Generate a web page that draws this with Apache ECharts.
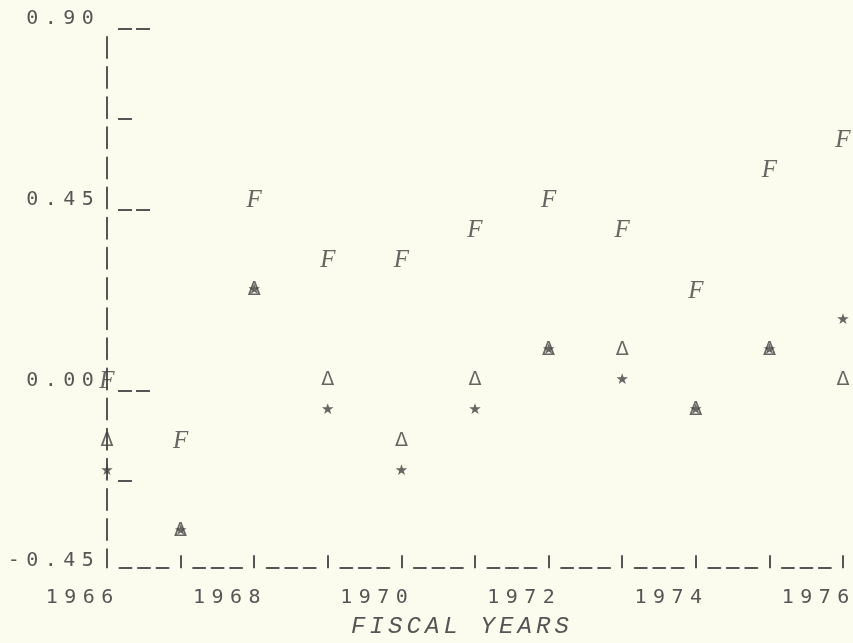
<!DOCTYPE html>
<html>
<head>
<meta charset="utf-8">
<script src="https://cdn.jsdelivr.net/npm/echarts@6/dist/echarts.min.js"></script>
<style>
html,body{margin:0;padding:0;background:#fcfcee;}
#chart{width:853px;height:643px;}
</style>
</head>
<body>
<div id="chart"></div>
<script>
// ---- data ----
const years = [1966, 1967, 1968, 1969, 1970, 1971, 1972, 1973, 1974, 1975, 1976];
const fValues     = [0.00, -0.15, 0.45, 0.30, 0.30, 0.375, 0.45, 0.375, 0.225, 0.525, 0.60];
const deltaValues = [-0.15, -0.375, 0.225, 0.00, -0.15, 0.00, 0.075, 0.075, -0.075, 0.075, 0.00];
const starValues  = [-0.225, -0.375, 0.225, -0.075, -0.225, -0.075, 0.075, 0.00, -0.075, 0.075, 0.15];
const xTickLabels = ['1966', '1968', '1970', '1972', '1974', '1976'];
const yTickLabels = ['-0.45', '0.00', '0.45', '0.90'];
const yMajorTickValues = [0.90, 0.45, 0.00];
const yMinorTickValues = [0.675, -0.225];
const xAxisTitle = 'FISCAL YEARS';

// ---- styling ----
const INK = '#555555';
const MARK = '#404040';
const PITCH = 18.5;
const GRID = {left: 107, right: 10, top: 18.8, bottom: 81.8};
const plotH = 643 - GRID.top - GRID.bottom;
const pxPerUnit = plotH / (0.90 + 0.45);
const SHIFT = 10 / pxPerUnit; // underscores sit ~10px below the row centre
const ROW = plotH / 18;        // typewriter line pitch

// dashed "|" column: one bar per printed line, none on the top (0.90) line
const yDash = [12];
for (let i = 1; i < 18; i++) { yDash.push(ROW - 21, 21); }
yDash.push(200);

function spaced(str, style) {
  return str.split('').map(ch => '{' + style + '|' + ch + '}').join('');
}
function pairs(vals) { return years.map((y, i) => [y, vals[i]]); }

const digitStyle = {width: PITCH, align: 'center', fontFamily: 'DejaVu Sans Mono', fontSize: 20, lineHeight: 22, color: INK};

function markerSeries(name, vals, ch, font, z) {
  return {
    name: name, type: 'scatter', data: pairs(vals), symbol: 'circle', symbolSize: 1,
    itemStyle: {color: 'rgba(0,0,0,0)'}, z: z, silent: true,
    label: {show: true, position: 'inside', formatter: ch, color: MARK,
            fontFamily: font.family, fontSize: font.size, fontStyle: font.style || 'normal',
            fontWeight: font.weight || 'normal', offset: font.offset || [0, 0]},
    emphasis: {disabled: true}
  };
}

const chart = echarts.init(document.getElementById('chart'), null, {renderer: 'canvas'});
chart.setOption({
  backgroundColor: '#fcfcee',
  animation: false,
  grid: Object.assign({containLabel: false, outerBoundsMode: 'none'}, GRID),
  xAxis: {
    type: 'value', min: 1966, max: 1976, interval: 1, offset: 7,
    axisLine: {show: true, onZero: false,
      lineStyle: {color: INK, width: 2, type: [12, 6.5, 12, 6.5, 12, 24.6], dashOffset: 61.1}},
    axisTick: {show: true, inside: true, length: 13, lineStyle: {color: INK, width: 2}},
    splitLine: {show: false},
    axisLabel: {
      margin: 19, align: 'center', padding: [0, 55, 0, 0],
      formatter: v => { const s = String(Math.round(v)); return xTickLabels.includes(s) ? spaced(s, 'd') : ''; },
      rich: {d: digitStyle}
    },
    name: spaced(xAxisTitle, 'n'), nameLocation: 'middle', nameGap: 46,
    nameTextStyle: {padding: [0, 30, 0, 0],
      rich: {n: {width: PITCH, align: 'center', fontFamily: 'Liberation Mono', fontStyle: 'italic', fontSize: 24, lineHeight: 24, color: INK}}}
  },
  yAxis: [
    {
      type: 'value', min: -0.45, max: 0.90, interval: 0.45, position: 'left', offset: 0,
      axisLine: {show: true, onZero: false, lineStyle: {color: INK, width: 2, type: yDash}},
      axisTick: {show: false}, splitLine: {show: false},
      axisLabel: {margin: 10,
        formatter: v => { const s = v.toFixed(2); return yTickLabels.includes(s) ? spaced(s, 'd') : ''; },
        rich: {d: digitStyle}}
    },
    {
      type: 'value', min: -0.45 + SHIFT, max: 0.90 + SHIFT, position: 'left', offset: 0,
      axisLine: {show: false, onZero: false}, splitLine: {show: false}, axisLabel: {show: false},
      axisTick: {show: true, inside: true, length: 44, customValues: yMajorTickValues,
        lineStyle: {color: INK, width: 2, type: [0, 11, 14, 4, 14, 100]}}
    },
    {
      type: 'value', min: -0.45 + SHIFT, max: 0.90 + SHIFT, position: 'left', offset: 0,
      axisLine: {show: false, onZero: false}, splitLine: {show: false}, axisLabel: {show: false},
      axisTick: {show: true, inside: true, length: 26, customValues: yMinorTickValues,
        lineStyle: {color: INK, width: 2, type: [0, 11, 14, 100]}}
    }
  ],
  series: [
    markerSeries('F', fValues, 'F', {family: 'Liberation Serif', size: 25, style: 'italic', offset: [0, 1]}, 3),
    markerSeries('Δ', deltaValues, 'Δ', {family: 'DejaVu Sans', size: 19, offset: [0, 0]}, 4),
    markerSeries('★', starValues, '★', {family: 'DejaVu Sans', size: 15, offset: [0, 0]}, 5)
  ]
});
</script>
</body>
</html>
